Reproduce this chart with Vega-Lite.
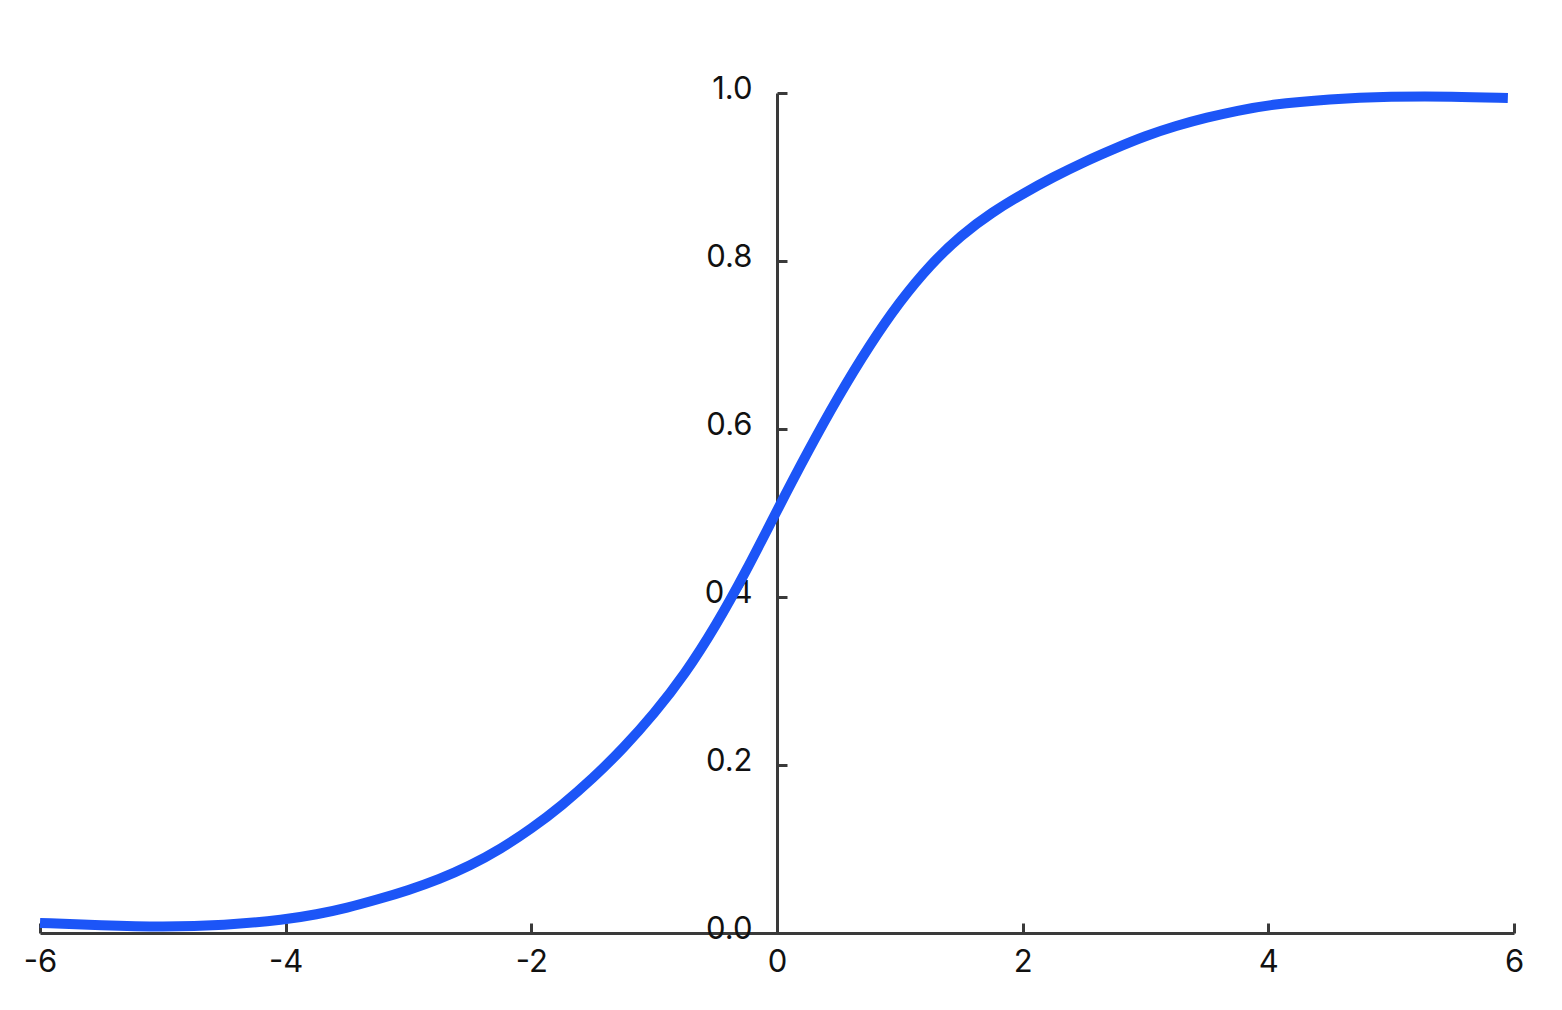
{
  "$schema": "https://vega.github.io/schema/vega-lite/v6.json",
  "width": 1474,
  "height": 840,
  "autosize": {"type": "none"},
  "padding": {"left": 40, "top": 93, "right": 48, "bottom": 77},
  "background": "white",
  "config": {
    "view": {"stroke": null},
    "axis": {
      "labelFont": "Inter",
      "labelFontSize": 31,
      "labelColor": "#111111",
      "domainColor": "#3a3a3a",
      "domainWidth": 3,
      "tickColor": "#3a3a3a",
      "tickWidth": 3,
      "grid": false,
      "title": null
    }
  },
  "data": {
    "values": [
      {"x": -6, "y": 0.012},
      {"x": -5.5, "y": 0.009},
      {"x": -5, "y": 0.007},
      {"x": -4.5, "y": 0.009},
      {"x": -4, "y": 0.016},
      {"x": -3.75, "y": 0.022},
      {"x": -3.5, "y": 0.030},
      {"x": -3.25, "y": 0.040},
      {"x": -3, "y": 0.051},
      {"x": -2.75, "y": 0.064},
      {"x": -2.5, "y": 0.080},
      {"x": -2.25, "y": 0.100},
      {"x": -2, "y": 0.124},
      {"x": -1.75, "y": 0.152},
      {"x": -1.5, "y": 0.184},
      {"x": -1.25, "y": 0.220},
      {"x": -1, "y": 0.261},
      {"x": -0.75, "y": 0.308},
      {"x": -0.5, "y": 0.365},
      {"x": -0.25, "y": 0.431},
      {"x": 0, "y": 0.503},
      {"x": 0.25, "y": 0.573},
      {"x": 0.5, "y": 0.639},
      {"x": 0.75, "y": 0.699},
      {"x": 1, "y": 0.752},
      {"x": 1.25, "y": 0.796},
      {"x": 1.5, "y": 0.831},
      {"x": 1.75, "y": 0.858},
      {"x": 2, "y": 0.880},
      {"x": 2.25, "y": 0.900},
      {"x": 2.5, "y": 0.918},
      {"x": 2.75, "y": 0.934},
      {"x": 3, "y": 0.949},
      {"x": 3.25, "y": 0.961},
      {"x": 3.5, "y": 0.971},
      {"x": 3.75, "y": 0.979},
      {"x": 4, "y": 0.986},
      {"x": 4.5, "y": 0.993},
      {"x": 5, "y": 0.996},
      {"x": 5.5, "y": 0.996},
      {"x": 5.95, "y": 0.994}
    ]
  },
  "mark": {"type": "line", "color": "#1c55f7", "strokeWidth": 10, "interpolate": "basis", "strokeCap": "butt"},
  "encoding": {
    "x": {
      "field": "x", "type": "quantitative",
      "scale": {"domain": [-6, 6], "nice": false, "zero": false},
      "axis": {"values": [-6, -4, -2, 0, 2, 4, 6], "labelExpr": "'' + datum.value", "tickSize": -10, "labelPadding": 24, "labelFlush": false}
    },
    "y": {
      "field": "y", "type": "quantitative",
      "scale": {"domain": [0, 1], "nice": false},
      "axis": {"values": [0, 0.2, 0.4, 0.6, 0.8, 1.0], "format": ".1f", "offset": -737, "tickSize": -10, "labelPadding": 35, "labelOffset": -4, "labelFlush": false}
    }
  }
}
